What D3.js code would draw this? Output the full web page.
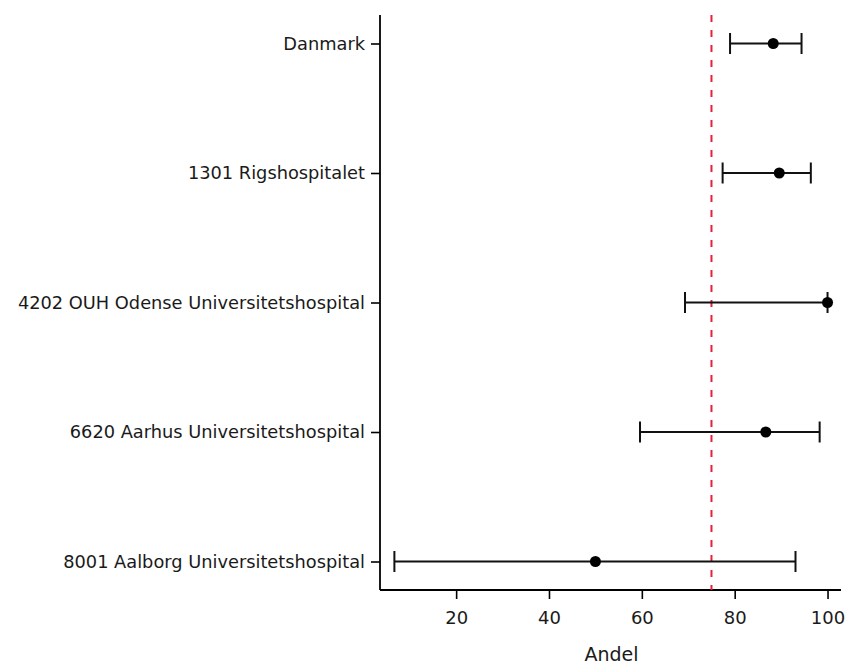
<!DOCTYPE html>
<html>
<head>
<meta charset="utf-8">
<script src="https://d3js.org/d3.v7.min.js"></script>
<style>
  body { margin: 0; background: #fff; }
  text { font-family: "DejaVu Sans", sans-serif; }
</style>
</head>
<body>
<svg width="848" height="664"></svg>
<script>
// data
var units = ['Danmark', '1301 Rigshospitalet', '4202 OUH Odense Universitetshospital',
             '6620 Aarhus Universitetshospital', '8001 Aalborg Universitetshospital'];
var andel = [88.3, 89.6, 100, 86.7, 50.0];
var lower = [79.0, 77.4, 69.3, 59.6, 6.7];
var upper = [94.4, 96.4, 100, 98.3, 93.1];
var target = 75;
var xTicks = [20, 40, 60, 80, 100];

var svg = d3.select('svg');
var plotLeft = 380, plotRight = 841, plotTop = 15, plotBottom = 590;

var x = d3.scaleLinear().domain([3.6, 102.9]).range([plotLeft, plotRight]);
var y = d3.scalePoint().domain(units).range([plotTop, plotBottom]).padding(0.22);

var rows = units.map(function(u, i) {
  return {unit: u, v: andel[i], lo: lower[i], hi: upper[i]};
});

// axes
var xAxis = svg.append('g')
  .attr('transform', 'translate(0,' + plotBottom + ')')
  .call(d3.axisBottom(x).tickValues(xTicks).tickSize(9).tickPadding(12));
var yAxis = svg.append('g')
  .attr('transform', 'translate(' + plotLeft + ',0)')
  .call(d3.axisLeft(y).tickSize(9).tickPadding(6));

[xAxis, yAxis].forEach(function(a) {
  a.select('.domain').attr('stroke', '#000').attr('stroke-width', 1.8);
  a.selectAll('.tick line').attr('stroke', '#000').attr('stroke-width', 1.6);
  a.selectAll('.tick text').attr('fill', '#1a1a1a').style('font-size', '18px');
});
// drop the outer tick stubs on the domain path
xAxis.select('.domain').attr('d', 'M' + plotLeft + ',0H' + plotRight);
yAxis.select('.domain').attr('d', 'M0,' + plotTop + 'V' + plotBottom);
yAxis.selectAll('.tick text').style('font-size', '17.8px');

svg.append('text')
  .attr('x', (plotLeft + plotRight) / 2 + 1)
  .attr('y', 655)
  .attr('text-anchor', 'middle')
  .attr('dominant-baseline', 'middle')
  .style('font-size', '19px')
  .attr('fill', '#1a1a1a')
  .text('Andel');

// reference line
svg.append('line')
  .attr('x1', x(target)).attr('x2', x(target))
  .attr('y1', plotTop).attr('y2', plotBottom)
  .attr('stroke', '#e4203c')
  .attr('stroke-width', 2)
  .attr('stroke-dasharray', '7,8');

// error bars
var g = svg.selectAll('.row').data(rows).enter().append('g').attr('class', 'row');
g.append('line')
  .attr('x1', function(d) { return x(d.lo); })
  .attr('x2', function(d) { return x(d.hi); })
  .attr('y1', function(d) { return y(d.unit); })
  .attr('y2', function(d) { return y(d.unit); })
  .attr('stroke', '#111').attr('stroke-width', 2);
['lo', 'hi'].forEach(function(k) {
  g.append('line')
    .attr('x1', function(d) { return x(d[k]); })
    .attr('x2', function(d) { return x(d[k]); })
    .attr('y1', function(d) { return y(d.unit) - 10.5; })
    .attr('y2', function(d) { return y(d.unit) + 10.5; })
    .attr('stroke', '#111').attr('stroke-width', 2);
});
g.append('circle')
  .attr('cx', function(d) { return x(d.v); })
  .attr('cy', function(d) { return y(d.unit); })
  .attr('r', 5.5)
  .attr('fill', '#000');
</script>
</body>
</html>
